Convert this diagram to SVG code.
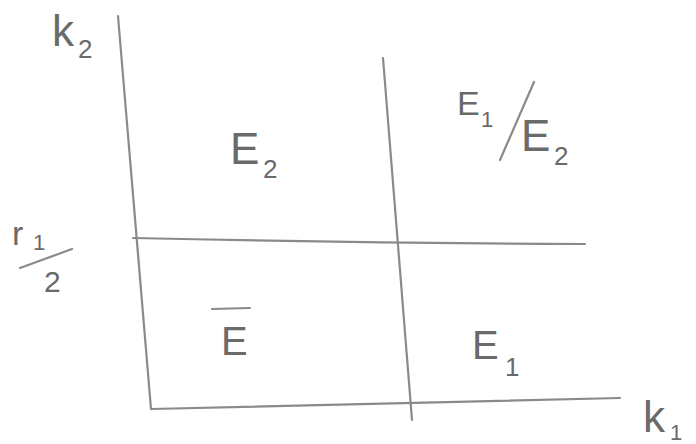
<svg xmlns="http://www.w3.org/2000/svg" width="696" height="444" viewBox="0 0 696 444">
<style>
.ln{stroke:#8a8a8a;stroke-width:2.2;fill:none;stroke-linecap:round}
.t{font-family:"Liberation Sans",Arial,sans-serif;fill:#6a6a6a}
.big{font-size:44px}
.sub{font-size:26px}
</style>
<rect width="696" height="444" fill="#ffffff"/>
<g id="axes">
<path class="ln" d="M118,16 Q135,210 151,409"/>
<path class="ln" d="M151,409 Q380,404 620,398"/>
<path class="ln" d="M383,58 Q398,240 412,420"/>
<path class="ln" d="M133,238 Q360,243 585,244"/>
</g>
<g id="label-k2"><text class="t big" x="52" y="46">k</text><text class="t sub" x="78" y="58">2</text></g>
<g id="label-r1-2">
<text class="t" font-size="34" x="12" y="245">r</text><text class="t" font-size="22" x="33" y="250">1</text>
<line class="ln" x1="20" y1="268" x2="72" y2="249" stroke="#777"/>
<text class="t" font-size="30" x="44" y="292">2</text>
</g>
<g id="region-E2"><text class="t big" x="230" y="164">E</text><text class="t sub" x="263" y="178">2</text></g>
<g id="region-E1E2">
<text class="t" font-size="34" x="457" y="115">E</text><text class="t" font-size="22" x="481" y="127">1</text>
<line class="ln" x1="500" y1="160" x2="534" y2="82" stroke="#777"/>
<text class="t big" x="521" y="151">E</text><text class="t sub" x="554" y="165">2</text>
</g>
<g id="region-Ebar">
<line class="ln" x1="212" y1="309" x2="250" y2="308" stroke="#777"/>
<text class="t" font-size="40" x="221" y="355">E</text>
</g>
<g id="region-E1"><text class="t" font-size="40" x="472" y="359">E</text><text class="t sub" x="505" y="376">1</text></g>
<g id="label-k1"><text class="t big" x="643" y="432">k</text><text class="t" font-size="22" x="670" y="440">1</text></g>
</svg>
